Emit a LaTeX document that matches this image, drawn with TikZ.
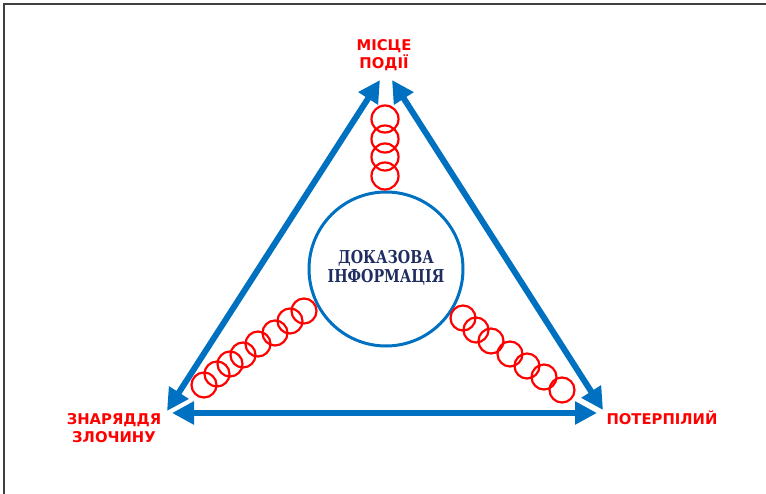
\documentclass[tikz,border=0pt]{standalone}
\usepackage{fontspec}
\setmainfont{DejaVu Sans}
\newfontfamily\labelfont{DejaVu Sans}
\newfontfamily\centerfont{DejaVu Serif}
\usetikzlibrary{arrows.meta}
\definecolor{linkblue}{RGB}{0,112,192}
\definecolor{infonavy}{RGB}{31,45,96}
\definecolor{chainred}{RGB}{255,0,0}
\tikzset{
  link/.style={draw=linkblue, line width=6pt, {Triangle[length=22pt,width=22pt]}-{Triangle[length=22pt,width=22pt]}},
  vertexlabel/.style={text=chainred, font=\labelfont\bfseries\fontsize{14.8}{18}\selectfont, align=center, inner sep=0pt},
  ring/.style={draw=chainred, line width=2.2pt, circle, minimum size=25pt, inner sep=0pt},
  corering/.style={draw=linkblue, line width=3pt, circle, minimum size=154pt, inner sep=0pt,
    text=infonavy, font=\centerfont\bfseries\fontsize{14.2}{15}\selectfont},
  frameline/.style={draw=black!75, line width=2pt}
}
\begin{document}
\begin{tikzpicture}[x=1pt,y=-1pt]
\useasboundingbox (0,0) rectangle (766,494);
% page frame (top and left edges only)
\draw[frameline] (4,494) -- (4,4) -- (766,4);

% arrow end points at the three corners
\coordinate (lTop) at (380,80);
\coordinate (lBot) at (167,411);
\coordinate (rTop) at (392,80);
\coordinate (rBot) at (603,410);
\coordinate (bL) at (172,413);
\coordinate (bR) at (597,413);

\draw[link] (lBot) -- (lTop);
\draw[link] (rTop) -- (rBot);
\draw[link] (bL) -- (bR);

% central circle
\node[corering] (info) at (386,269)
  {\scalebox{1}[1.25]{\begin{tabular}{@{}c@{}}ДОКАЗОВА\\ІНФОРМАЦІЯ\end{tabular}}};

% corner labels
\node[vertexlabel] (place) at (384,55) {МІСЦЕ\\ПОДІЇ};
\node[vertexlabel] (tool) at (114,428) {ЗНАРЯДДЯ\\ЗЛОЧИНУ};
\node[vertexlabel] (victim) at (662,418) {ПОТЕРПІЛИЙ};

% chains of rings
\foreach \y [count=\i] in {119,139,157,176}
  \node[ring, minimum size=27pt] (top\i) at (385,\y) {};
\foreach \x/\y [count=\i] in {304/311, 290/321, 275/333, 258/344, 243/355, 230/364, 217/374, 204/385}
  \node[ring] (left\i) at (\x,\y) {};
\foreach \x/\y [count=\i] in {463/318, 476/330, 491/341, 510/354, 527/366, 544/377, 562/390}
  \node[ring] (right\i) at (\x,\y) {};
\end{tikzpicture}
\end{document}
